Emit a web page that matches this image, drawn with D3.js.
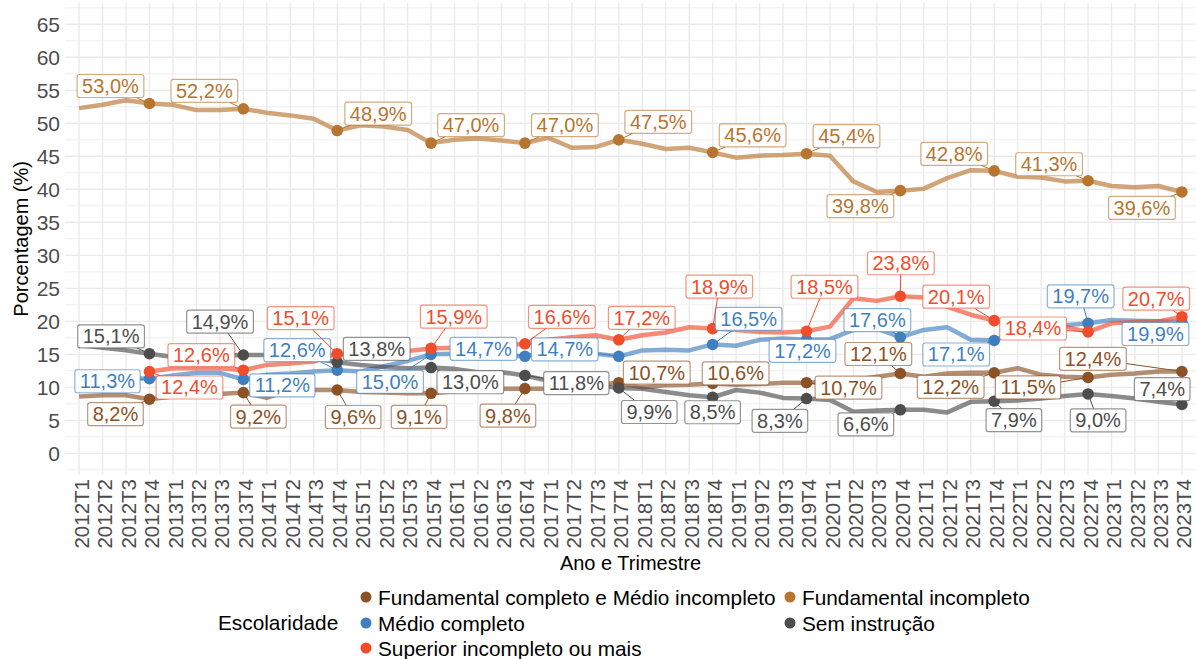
<!DOCTYPE html>
<meta charset="utf-8">
<style>
body { margin: 0; background: #fff; }
text { font-family: "Liberation Sans", Arial, sans-serif; }
.grid-major { stroke: #ebebeb; stroke-width: 1.4px; }
.grid-minor { stroke: #ebebeb; stroke-width: 0.8px; }
.tick-label { fill: #4d4d4d; font-size: 21px; }
.x-label { font-size: 20.5px; }
.axis-title { fill: #000; font-size: 20px; }
.legend-text { fill: #000; font-size: 20.8px; }
.lbl-text { font-size: 20px; }
</style>
<body>
<script src="https://d3js.org/d3.v7.min.js"></script>
<script>

// quarters 2012T1 .. 2023T4
var years = d3.range(2012, 2024);
var quarters = [];
years.forEach(function(y) { [1, 2, 3, 4].forEach(function(q) { quarters.push(y + "T" + q); }); });

var seriesNames = [
    "Fundamental completo e Médio incompleto",
    "Fundamental incompleto",
    "Médio completo",
    "Sem instrução",
    "Superior incompleto ou mais"
];
var seriesColors = ["#8c5226", "#b8752f", "#3f7fbf", "#4d4d4d", "#f04d2c"];

// percent values per quarter
var fundCompletoMedioInc = [8.6, 8.8, 8.8, 8.2, 8.6, 8.9, 9.0, 9.2, 8.4, 9.6, 9.6, 9.6,
    9.3, 9.2, 9.1, 9.1, 9.4, 9.6, 9.8, 9.8, 9.8, 10.0, 10.4, 10.7,
    10.0, 10.3, 10.4, 10.6, 10.4, 10.5, 10.7, 10.7, 10.9, 11.1, 11.6, 12.1,
    11.6, 12.1, 12.2, 12.2, 12.9, 11.9, 11.6, 11.5, 11.9, 12.1, 12.4, 12.4];
var fundIncompleto = [52.3, 52.8, 53.5, 53.0, 52.8, 52.0, 52.0, 52.2, 51.6, 51.2, 50.7, 48.9,
    49.7, 49.5, 49.0, 47.0, 47.5, 47.7, 47.4, 47.0, 47.8, 46.3, 46.4, 47.5,
    46.9, 46.1, 46.3, 45.6, 44.8, 45.1, 45.2, 45.4, 45.1, 41.2, 39.6, 39.8,
    40.1, 41.7, 42.9, 42.8, 41.9, 41.8, 41.2, 41.3, 40.5, 40.3, 40.5, 39.6];
var medioCompleto = [11.0, 11.3, 11.4, 11.3, 11.8, 12.2, 12.2, 11.2, 11.9, 12.1, 12.4, 12.6,
    12.4, 13.2, 14.0, 15.0, 15.1, 14.9, 14.8, 14.7, 15.3, 15.4, 15.1, 14.7,
    15.6, 15.7, 15.6, 16.5, 16.3, 17.2, 17.4, 17.2, 17.3, 18.7, 18.9, 17.6,
    18.7, 19.1, 17.2, 17.1, 18.6, 19.3, 19.4, 19.7, 20.2, 20.1, 20.0, 19.9];
var semInstrucao = [16.4, 16.0, 15.6, 15.1, 14.6, 14.6, 14.8, 14.9, 14.9, 14.6, 14.4, 13.8,
    13.4, 13.1, 12.9, 13.0, 12.8, 12.3, 12.3, 11.8, 11.0, 10.6, 10.3, 9.9,
    9.8, 9.3, 8.8, 8.5, 9.6, 9.2, 8.4, 8.3, 8.1, 6.3, 6.5, 6.6,
    6.6, 6.2, 7.8, 7.9, 8.0, 8.3, 8.7, 9.0, 8.7, 8.3, 7.8, 7.4];
var superiorInc = [null, null, null, 12.4, 12.9, 12.9, 12.9, 12.6, 13.4, 13.6, 13.9, 15.1,
    14.8, 15.0, 15.5, 15.9, 16.0, 15.9, 16.3, 16.6, 17.2, 17.6, 17.9, 17.2,
    17.9, 18.3, 19.1, 18.9, 18.7, 18.4, 18.3, 18.5, 19.2, 23.5, 23.1, 23.8,
    23.6, 22.2, 21.0, 20.1, 19.6, 19.4, 19.2, 18.4, 19.7, 19.9, 20.0, 20.7];

var seriesValues = [fundCompletoMedioInc, fundIncompleto, medioCompleto, semInstrucao, superiorInc];
var yTicks = d3.range(0, 70, 5);

// label nudges (px) for the T4 points, like ggrepel placed them
var labelNudge = [
    [[-34,15],[15,24],[16,27],[-12,23.5],[-17,27],[38,-10],[23,-10],[42,5],[-22,-19.5],[-43.5,14],[-60,10],[-89,-12.7]],
    [[-39,-17.5],[-39,-18],[41,-17],[40,-18],[40,-18],[39.5,-18],[40,-17],[40,-17.5],[-40,15.5],[-40,-17],[-39,-16.5],[-40,16]],
    [[-42,2.5],[39,6],[-40,-20],[-41,27.5],[-41.5,-7.5],[-54,-7],[36,-25.5],[-4,11],[-23,-17],[-38,14],[-7.4,-27],[-26.5,12]],
    [[-38.4,-17.3],[-23.3,-33.3],[39.5,-13.4],[39.3,14.7],[51.4,7.6],[30.5,24],[0,15],[-26.6,22.3],[-34.5,14.5],[19.7,19],[10,26.4],[-19.7,-15.3]],
    [[40,16],[-42,-15],[-36.5,-35.5],[22.7,-31.7],[37,-27],[23,-22],[6.7,-42],[18,-44.5],[0.5,-33],[-38,-24],[-55,-3.4],[-25.7,-18]]
];

var W = 1196, H = 659;
var panel = {left: 65, right: 1196, top: 2.85, bottom: 474.8};

var svg = d3.select("body").append("svg")
    .attr("width", W)
    .attr("height", H);

var x = d3.scalePoint().domain(quarters).range([panel.left, panel.right]).padding(0.6);
var y = d3.scaleLinear().domain([-3.25, 68.25]).range([panel.bottom, panel.top]);

// grid
var grid = svg.append("g");
grid.selectAll(".gm").data(d3.range(-2.5, 70, 5)).enter().append("line")
    .attr("class", "grid-minor")
    .attr("x1", panel.left).attr("x2", panel.right)
    .attr("y1", function(d) { return y(d); }).attr("y2", function(d) { return y(d); });
grid.selectAll(".gh").data(yTicks).enter().append("line")
    .attr("class", "grid-major")
    .attr("x1", panel.left).attr("x2", panel.right)
    .attr("y1", function(d) { return y(d); }).attr("y2", function(d) { return y(d); });
grid.selectAll(".gv").data(quarters).enter().append("line")
    .attr("class", "grid-major")
    .attr("y1", panel.top).attr("y2", panel.bottom)
    .attr("x1", function(d) { return x(d); }).attr("x2", function(d) { return x(d); });

// y tick labels
svg.append("g").selectAll("text").data(yTicks).enter().append("text")
    .attr("class", "tick-label")
    .attr("x", 60)
    .attr("y", function(d) { return y(d) + 7.5; })
    .attr("text-anchor", "end")
    .text(function(d) { return d; });

// x tick labels, rotated
svg.append("g").selectAll("text").data(quarters).enter().append("text")
    .attr("class", "tick-label x-label")
    .attr("transform", function(d) { return "translate(" + (x(d) - 5) + ",479) rotate(-90)"; })
    .attr("dy", "0.71em")
    .attr("text-anchor", "end")
    .text(function(d) { return d; });

// axis titles
svg.append("text").attr("class", "axis-title")
    .attr("x", (panel.left + panel.right) / 2).attr("y", 570)
    .attr("text-anchor", "middle").text("Ano e Trimestre");
svg.append("text").attr("class", "axis-title")
    .attr("transform", "translate(28," + ((panel.top + panel.bottom) / 2) + ") rotate(-90)")
    .attr("text-anchor", "middle").text("Porcentagem (%)");

// lines
var line = d3.line()
    .defined(function(d) { return d != null; })
    .x(function(d, i) { return x(quarters[i]); })
    .y(function(d) { return y(d); });

svg.append("g").selectAll("path").data(seriesValues).enter().append("path")
    .attr("d", line)
    .attr("fill", "none")
    .attr("stroke", function(d, i) { return seriesColors[i]; })
    .attr("stroke-opacity", 0.65)
    .attr("stroke-width", 4.5)
    .attr("stroke-linejoin", "round");

// points at every T4
var t4 = [];
seriesValues.forEach(function(vals, s) {
    var k = 0;
    vals.forEach(function(v, i) {
        if (i % 4 === 3 && v != null) {
            t4.push({s: s, i: i, v: v, nudge: labelNudge[s][k]});
            k++;
        }
    });
});

svg.append("g").selectAll("circle").data(t4).enter().append("circle")
    .attr("cx", function(d) { return x(quarters[d.i]); })
    .attr("cy", function(d) { return y(d.v); })
    .attr("r", 5.8)
    .attr("fill", function(d) { return seriesColors[d.s]; });

// labels
var fmt = function(v) { return d3.format(".1f")(v).replace(".", ",") + "%"; };
var lblG = svg.append("g");
var boxH = 23, pad = 5;

t4.forEach(function(d) {
    var px = x(quarters[d.i]), py = y(d.v);
    var cx = px + d.nudge[0], cy = py + d.nudge[1];
    var col = seriesColors[d.s];
    var g = lblG.append("g");
    var seg = g.append("line");
    var rect = g.append("rect");
    var t = g.append("text")
        .attr("class", "lbl-text")
        .attr("x", cx).attr("y", cy + 7)
        .attr("text-anchor", "middle")
        .attr("fill", col)
        .text(fmt(d.v));
    var w = t.node().getComputedTextLength() + 2 * pad;
    var bx = cx - w / 2, by = cy - boxH / 2;
    rect.attr("x", bx).attr("y", by).attr("width", w).attr("height", boxH)
        .attr("rx", 2.5)
        .attr("fill", "#fff")
        .attr("stroke", col).attr("stroke-opacity", 0.6).attr("stroke-width", 1.2);

    // segment from point to box border, along the line between centres
    var dx = px - cx, dy = py - cy;
    var sx = dx === 0 ? Infinity : (w / 2) / Math.abs(dx);
    var sy = dy === 0 ? Infinity : (boxH / 2) / Math.abs(dy);
    var s = Math.min(sx, sy);
    if (s < 1) {
        var ex = cx + dx * s, ey = cy + dy * s;
        var len = Math.hypot(px - ex, py - ey);
        if (len > 6) {
            seg.attr("x1", px).attr("y1", py).attr("x2", ex).attr("y2", ey)
                .attr("stroke", col).attr("stroke-width", 1);
        }
    }
});

// legend
var legend = svg.append("g");
legend.append("text").attr("class", "legend-text")
    .attr("x", 218).attr("y", 630).text("Escolaridade");
var legCols = [366, 790], legRows = [597, 623, 648];
seriesNames.forEach(function(name, i) {
    var kx = legCols[i % 2], ky = legRows[Math.floor(i / 2)];
    legend.append("circle").attr("cx", kx).attr("cy", ky).attr("r", 5.5).attr("fill", seriesColors[i]);
    legend.append("text").attr("class", "legend-text")
        .attr("x", kx + 12).attr("y", ky + 7.5).text(name);
});

</script>
</body>
